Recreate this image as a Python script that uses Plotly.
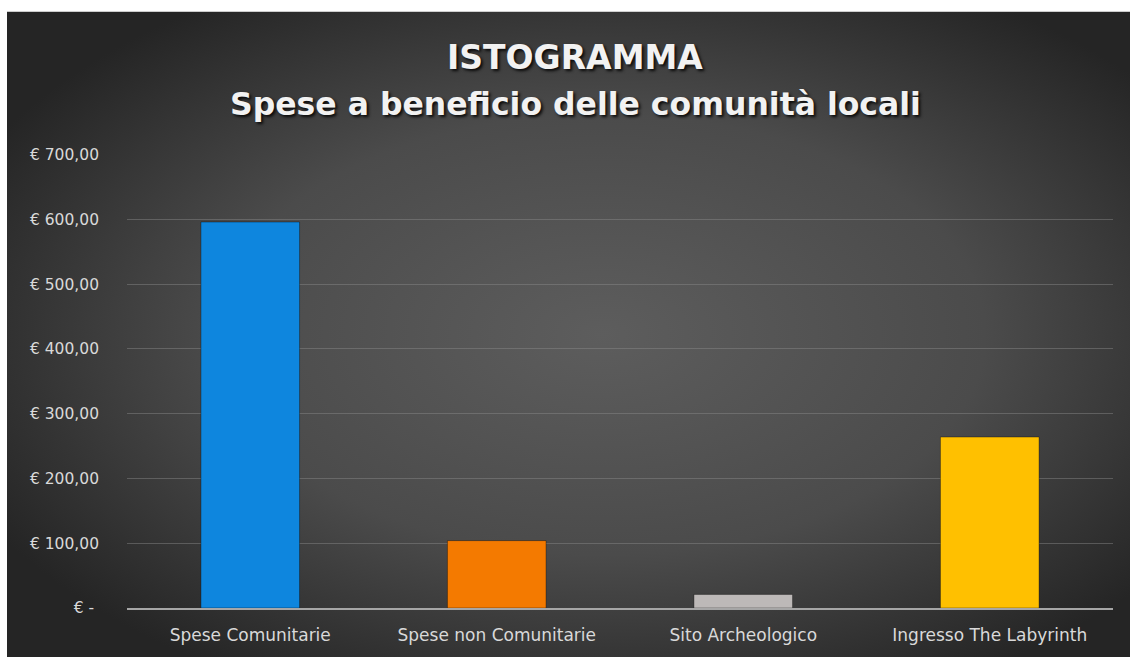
import base64
import plotly.graph_objects as go

categories = ["Spese Comunitarie", "Spese non Comunitarie", "Sito Archeologico", "Ingresso The Labyrinth"]
values = [596, 104, 21, 264]
bar_colors = ["#0e86de", "#f47a00", "#bdb9b8", "#ffc000"]
tick_values = [0, 100, 200, 300, 400, 500, 600, 700]
tick_labels = ["€ -\u00a0", "€ 100,00", "€ 200,00", "€ 300,00", "€ 400,00", "€ 500,00", "€ 600,00", "€ 700,00"]
title_line1 = "ISTOGRAMMA"
title_line2 = "Spese a beneficio delle comunità locali"

W, H = 1130, 657
plot_left, plot_right, y0_px, y700_px = 127, 1113, 608, 155
ymax = 701
top_px = y0_px - (y0_px - y700_px) * ymax / 700
L = plot_left
R = W - plot_right
T = top_px
B = H - y0_px
pw, ph = W - L - R, H - T - B


def px_x(p):
    return (p - L) / pw


def px_y(p):
    return (H - B - p) / ph


svg = (
    '<svg xmlns="http://www.w3.org/2000/svg" width="1123" height="645" viewBox="0 0 1123 645" preserveAspectRatio="none">'
    '<defs><radialGradient id="g" cx="0.53" cy="0.5" r="0.62">'
    '<stop offset="0" stop-color="#5d5d5d"/><stop offset="0.55" stop-color="#4b4b4b"/>'
    '<stop offset="1" stop-color="#252525"/></radialGradient></defs>'
    '<rect x="0" y="0" width="1123" height="645" fill="url(#g)"/></svg>'
)
bg_src = "data:image/svg+xml;base64," + base64.b64encode(svg.encode()).decode()

fig = go.Figure(
    go.Bar(
        x=categories,
        y=values,
        marker=dict(color=bar_colors, line=dict(color="rgba(0,0,0,0.35)", width=1)),
        width=0.4,
        hoverinfo="x+y",
    )
)

fig.add_layout_image(
    source=bg_src, xref="paper", yref="paper",
    x=px_x(7), y=px_y(12), sizex=px_x(1130) - px_x(7), sizey=px_y(12) - px_y(657),
    xanchor="left", yanchor="top", sizing="stretch", layer="below",
)

shadow = "2px 2px 3px rgba(0,0,0,0.85)"
fig.add_annotation(text=title_line1, xref="paper", yref="paper", x=px_x(575), y=px_y(58),
                   showarrow=False, xanchor="center", yanchor="middle",
                   font=dict(family="DejaVu Sans", size=33, color="#f2f2f2", weight="bold", shadow=shadow))
fig.add_annotation(text=title_line2, xref="paper", yref="paper", x=px_x(575), y=px_y(104),
                   showarrow=False, xanchor="center", yanchor="middle",
                   font=dict(family="DejaVu Sans", size=31.5, color="#f2f2f2", weight="bold", shadow=shadow))

fig.update_layout(
    width=W, height=H,
    margin=dict(l=L, r=R, t=T, b=B, pad=0),
    paper_bgcolor="white",
    plot_bgcolor="rgba(0,0,0,0)",
    showlegend=False,
    font=dict(family="DejaVu Sans", color="#d9d9d9"),
    xaxis=dict(
        showgrid=False, showline=True, linecolor="#a6a6a6", linewidth=2,
        tickfont=dict(size=17, color="#d9d9d9"), ticklabelstandoff=11,
        ticks="", zeroline=False,
    ),
    yaxis=dict(
        range=[0, ymax], tickvals=tick_values, ticktext=tick_labels,
        showgrid=True, gridcolor="rgba(140,140,140,0.45)", gridwidth=1,
        zeroline=False, showline=False,
        tickfont=dict(size=15.5, color="#d9d9d9"), ticklabelstandoff=27,
    ),
)

fig.write_html(
    "out.html",
    config={"displayModeBar": False},
    post_script="document.body.style.margin='0';document.body.style.overflow='hidden';",
)
